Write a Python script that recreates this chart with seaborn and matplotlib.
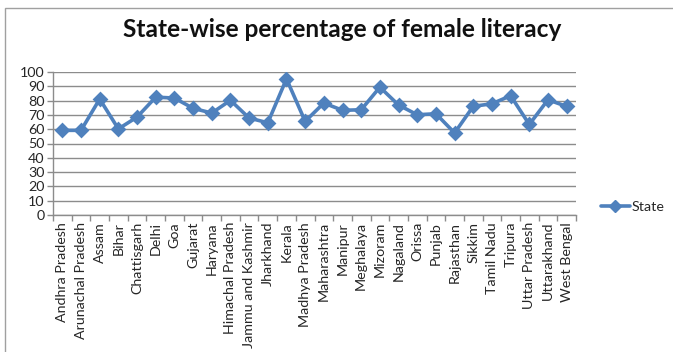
import matplotlib
matplotlib.use("Agg")
import matplotlib.pyplot as plt
from matplotlib.patches import Rectangle
from matplotlib.lines import Line2D
from matplotlib.ticker import FixedLocator, MultipleLocator
import seaborn as sns
import pandas as pd

states = [
    "Andhra Pradesh", "Arunachal Pradesh", "Assam", "Bihar", "Chattisgarh",
    "Delhi", "Goa", "Gujarat", "Haryana", "Himachal Pradesh",
    "Jammu and Kashmir", "Jharkhand", "Kerala", "Madhya Pradesh", "Maharashtra",
    "Manipur", "Meghalaya", "Mizoram", "Nagaland", "Orissa",
    "Punjab", "Rajasthan", "Sikkim", "Tamil Nadu", "Tripura",
    "Uttar Pradesh", "Uttarakhand", "West Bengal",
]
female_literacy = [
    59.2, 59.2, 81.1, 60.2, 68.5,
    82.4, 81.8, 74.6, 71.3, 80.2,
    67.8, 64.5, 95.2, 65.5, 78.3,
    73.2, 73.6, 89.4, 76.9, 70.1,
    70.8, 57.4, 76.0, 77.8, 83.4,
    63.3, 80.6, 75.9,
]
y_ticks = list(range(0, 101, 10))

sns.set_theme(style="white")
plt.rcParams["font.family"] = ["Lato", "DejaVu Sans"]

blue = "#4F81BD"
grid_grey = "#8C8C8C"
label_size = 10.3

df = pd.DataFrame({"State name": states, "State": female_literacy})

fig = plt.figure(figsize=(6.73, 3.52), dpi=100)
ax = fig.add_axes([53 / 673, 1 - 215 / 352, 523 / 673, 143 / 352])

sns.pointplot(
    data=df, x="State name", y="State", ax=ax, color=blue,
    markers="D", markersize=6.5, linewidth=2.6, errorbar=None,
)

ax.set_xlim(-0.5, len(states) - 0.5)
ax.set_ylim(0, 100)
ax.set_xlabel("")
ax.set_ylabel("")

ax.yaxis.set_major_locator(FixedLocator(y_ticks))
ax.grid(axis="y", color=grid_grey, linewidth=1.0)
ax.grid(axis="x", visible=False)
ax.set_axisbelow(True)

for side in ("top", "right"):
    ax.spines[side].set_visible(False)
for side in ("left", "bottom"):
    ax.spines[side].set_color(grid_grey)
    ax.spines[side].set_linewidth(1.0)

ax.set_xticks(range(len(states)))
ax.set_xticklabels(states, rotation=90, fontsize=label_size, color="#262626")
ax.xaxis.set_minor_locator(MultipleLocator(1, offset=0.5))
ax.tick_params(axis="x", which="major", length=0, pad=5)
ax.tick_params(axis="x", which="minor", length=4, width=1, color=grid_grey,
               direction="out", bottom=True)
ax.tick_params(axis="y", which="major", length=4, width=1, color=grid_grey,
               direction="out", left=True, labelsize=label_size,
               labelcolor="#262626", pad=2)

handle = Line2D([], [], color=blue, marker="D", markersize=6.5, linewidth=2.6)
fig.legend([handle], ["State"], loc="center left",
           bbox_to_anchor=(594 / 673, 1 - 207 / 352), frameon=False,
           fontsize=label_size, handlelength=2.0, handletextpad=0.15,
           borderpad=0)

fig.text(342 / 673, 1 - 37 / 352, "State-wise percentage of female literacy",
         ha="center", va="baseline", fontsize=17.6, fontweight="bold",
         color="#111111")

fig.patches.append(Rectangle((5 / 673, -0.05), 1.0, 1 - 8 / 352 + 0.05,
                             transform=fig.transFigure, fill=False,
                             edgecolor="#A0A0A0", linewidth=1.0))

fig.savefig("out.png", dpi=100)
